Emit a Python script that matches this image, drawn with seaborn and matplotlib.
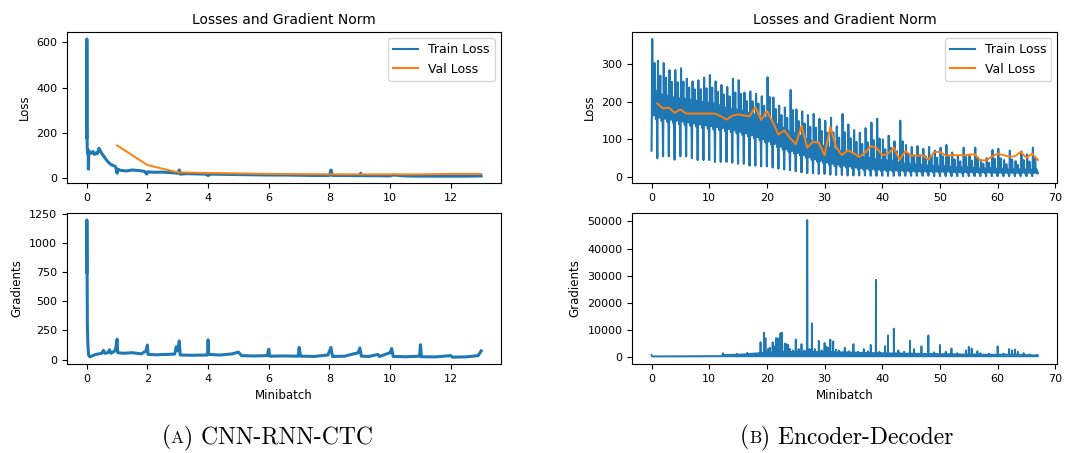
import numpy as np
import pandas as pd
import seaborn as sns
import matplotlib.pyplot as plt
from matplotlib.offsetbox import TextArea, HPacker, AnchoredOffsetbox

# ---- CNN-RNN-CTC (left) ----
train_a_x = [0, 0.003, 0.008, 0.015, 0.03, 0.045, 0.055, 0.07, 0.1, 0.15, 0.2, 0.25, 0.3, 0.35, 0.4, 0.45,
             0.5, 0.6, 0.7, 0.8, 0.9, 0.95, 1.0, 1.02, 1.1, 1.3, 1.5, 1.7, 1.9, 1.98, 2.0, 2.2, 2.5, 2.8,
             3.0, 3.05, 3.08, 3.3, 3.6, 3.9, 4.0, 4.1, 4.5, 5.0, 5.5, 6.0, 6.5, 7.0, 7.5, 8.0, 8.05, 8.1,
             8.5, 9.0, 9.03, 9.06, 9.5, 10.0, 10.1, 10.5, 11.0, 11.5, 12.0, 12.5, 13.0]
train_a_y = [180, 615, 250, 130, 110, 125, 40, 120, 115, 110, 118, 105, 112, 108, 132, 120,
             108, 90, 72, 60, 55, 50, 22, 40, 35, 32, 36, 34, 30, 18, 28, 26, 27, 24,
             22, 36, 18, 20, 19, 18, 12, 18, 17, 16, 15, 14, 14, 13, 12, 12, 36, 12,
             12, 11, 22, 11, 11, 10, 14, 10, 9, 9, 9, 9, 10]
val_a_x = [1, 2, 3, 4, 5, 6, 7, 8, 9, 10, 11, 12, 13]
val_a_y = [145, 58, 26, 23, 21, 19, 18, 17, 17, 17, 17, 19, 19]
grad_a_x = [0, 0.003, 0.01, 0.02, 0.04, 0.06, 0.1, 0.2, 0.3, 0.4, 0.5, 0.55, 0.6, 0.7, 0.75, 0.8, 0.9,
            0.95, 1.0, 1.02, 1.2, 1.5, 1.8, 1.95, 2.0, 2.02, 2.3, 2.6, 2.9, 2.95, 3.0, 3.05, 3.08, 3.5,
            3.9, 3.98, 4.0, 4.02, 4.4, 4.8, 5.0, 5.1, 5.5, 5.95, 6.0, 6.03, 6.5, 6.97, 7.0, 7.05, 7.5,
            7.95, 8.05, 8.1, 8.5, 8.95, 9.0, 9.05, 9.3, 9.6, 9.65, 10.0, 10.05, 10.1, 10.5, 10.97,
            11.0, 11.03, 11.5, 12.0, 12.05, 12.5, 12.9, 13.0]
grad_a_y = [750, 1195, 900, 300, 120, 40, 25, 35, 45, 50, 55, 80, 55, 60, 85, 55, 70,
            90, 175, 60, 55, 60, 50, 75, 125, 45, 42, 45, 48, 110, 75, 160, 40, 38,
            40, 40, 170, 45, 40, 50, 65, 35, 32, 35, 90, 30, 32, 30, 105, 30, 28,
            40, 105, 28, 30, 60, 100, 30, 28, 45, 28, 60, 95, 28, 25, 30,
            128, 25, 24, 35, 22, 24, 35, 75]

# ---- Encoder-Decoder (right), per-epoch levels of the train loss ----
ep_spike = [368, 310, 304, 285, 285, 290, 262, 255, 258, 265, 272, 255, 245, 240, 262, 258, 225, 228,
            222, 215, 266, 212, 190, 185, 232, 180, 175, 165, 168, 155, 150, 158, 135, 168, 140, 125,
            118, 130, 145, 155, 100, 110, 95, 150, 85, 80, 82, 75, 80, 70, 78, 85, 65, 55, 78, 60,
            78, 45, 50, 72, 75, 45, 70, 42, 68, 60, 78]
ep_top = [240, 230, 225, 222, 220, 218, 215, 212, 210, 208, 205, 200, 195, 190, 188, 185, 180, 175,
          170, 165, 160, 150, 140, 130, 125, 118, 110, 102, 95, 90, 85, 80, 75, 70, 66, 62,
          58, 55, 52, 50, 48, 45, 42, 40, 38, 36, 35, 34, 33, 32, 31, 30, 29, 28, 28, 27,
          26, 25, 25, 24, 24, 23, 23, 22, 22, 22, 22]
ep_floor = [145, 140, 138, 135, 132, 130, 128, 125, 122, 120, 118, 116, 114, 112, 108, 104, 100, 95,
            90, 84, 78, 72, 66, 60, 55, 50, 45, 40, 35, 31, 27, 24, 22, 20, 18, 16,
            15, 14, 13, 12, 12, 12, 11, 11, 11, 11, 10, 10, 10, 10, 10, 10, 9, 9, 9, 9,
            9, 9, 9, 8, 8, 8, 8, 8, 8, 8, 8]
ep_dip = [70, 50, 55, 55, 46, 55, 55, 50, 45, 45, 45, 40, 40, 40, 38, 35, 35, 30,
          30, 28, 28, 25, 22, 20, 18, 15, 12, 10, 10, 8, 8, 6, 5, 5, 4, 4,
          4, 4, 3, 3, 3, 3, 3, 3, 3, 3, 3, 3, 3, 2, 2, 2, 2, 2, 2, 2,
          2, 2, 2, 2, 2, 2, 2, 2, 2, 2, 2]
# shape of the loss inside one epoch: (offset, level) with
# -1 = dip, 0..1 = between floor and top, 2 = spike, 1.5 = half spike
epoch_shape = [(0.00, -1), (0.06, 0.3), (0.12, 2), (0.20, 0.5), (0.28, 1), (0.36, 0.2), (0.44, 0.8),
               (0.52, 1.5), (0.60, 0.4), (0.68, 0.9), (0.76, 0.1), (0.84, 0.7), (0.92, 0.3)]

val_b_x = list(range(1, 68))
val_b_y = [196, 183, 185, 171, 180, 169, 169, 169, 169, 169, 169, 162, 153, 163, 167, 164, 162, 187,
           152, 176, 147, 113, 124, 104, 87, 136, 78, 94, 91, 58, 133, 79, 58, 71, 64, 53,
           64, 82, 78, 58, 62, 78, 46, 69, 57, 57, 57, 46, 66, 67, 57, 58, 58, 58, 58, 61,
           44, 44, 54, 62, 58, 54, 55, 67, 51, 62, 45]

# gradient norm of the encoder-decoder: a baseline band plus narrow spikes
base_b_x = [0, 0.1, 5, 12, 12.3, 17, 19, 20, 27, 35, 42, 50, 60, 67]
base_b_y = [800, 300, 320, 400, 800, 1200, 1500, 2000, 1900, 1700, 1400, 1100, 900, 600]
spike_b_x = [12.4, 14.8, 16.6, 18.9, 19.5, 19.75, 20.2, 20.5, 21.0, 21.3, 21.6, 21.9, 22.35, 22.6,
             23.1, 23.4, 23.7, 24.0, 24.5, 25.0, 25.5, 26.0, 26.5, 27.0, 27.4, 27.8, 28.3, 29.0,
             29.5, 30.0, 30.3, 30.6, 31.0, 31.5, 32.0, 32.5, 33.5, 34.2, 35.0, 35.8, 36.8, 37.5,
             38.0, 38.9, 39.5, 40.5, 41.0, 42.0, 42.8, 43.8, 44.8, 45.5, 46.8, 48.0, 49.0, 50.0,
             51.0, 52.0, 53.0, 54.5, 55.0, 55.5, 56.5, 57.0, 58.5, 60.0, 61.0, 62.0, 62.5, 63.0,
             63.5, 64.5, 65.5, 66.8]
spike_b_y = [1500, 1200, 1600, 5500, 9000, 7000, 3000, 3500, 5500, 4000, 7000, 7000, 8800, 9000,
             5000, 4800, 4500, 3000, 2500, 6500, 3000, 4800, 2500, 50500, 3000, 12500, 3000, 6000,
             2500, 5200, 3800, 3500, 6500, 5800, 2800, 2500, 3500, 2200, 4800, 2000, 3000, 2200,
             4500, 28500, 2000, 4000, 8000, 10500, 2500, 2000, 6000, 3000, 4000, 8000, 1800, 4500,
             2000, 3200, 1500, 2500, 3800, 3200, 2200, 1500, 1300, 4000, 1300, 3000, 2500, 2800,
             2000, 1500, 1000, 900]
spike_b_base = [800, 900, 1100, 1500, 1600, 1600, 1700, 1700, 1800, 1800, 1800, 1800, 1900, 1900,
                2000, 2000, 2000, 2000, 1900, 1900, 1900, 1900, 1900, 1900, 1900, 1900, 1900, 1900,
                1900, 1900, 1900, 1900, 1900, 1900, 1800, 1800, 1800, 1700, 1700, 1600, 1600, 1500,
                1500, 1500, 1500, 1400, 1400, 1400, 1400, 1300, 1300, 1300, 1200, 1200, 1200, 1100,
                1100, 1100, 1000, 1000, 1000, 1000, 1000, 900, 900, 900, 900, 900, 900, 900,
                900, 800, 700, 600]

# build the train loss series of the encoder-decoder from the per-epoch levels
train_b_x, train_b_y = [], []
for e in range(len(ep_spike)):
    for off, lev in epoch_shape:
        if lev == -1:
            v = ep_dip[e]
        elif lev == 2:
            v = ep_spike[e]
        elif lev == 1.5:
            v = (ep_top[e] + ep_spike[e]) / 2
        else:
            v = ep_floor[e] + lev * (ep_top[e] - ep_floor[e])
        train_b_x.append(e + off)
        train_b_y.append(v)
train_b_x.append(67)
train_b_y.append(ep_dip[-1] + 8)

# merge baseline knots and spikes into one gradient series
pts = list(zip(base_b_x, base_b_y))
for sx, sy, sb in zip(spike_b_x, spike_b_y, spike_b_base):
    pts += [(sx - 0.025, sb), (sx, sy), (sx + 0.025, sb)]
pts.sort()
grad_b = pd.DataFrame(pts, columns=['minibatch', 'grad'])

fig = plt.figure(figsize=(10.9, 4.53), dpi=100)
ax_la = fig.add_axes([0.0615, 0.596, 0.398, 0.333])
ax_lb = fig.add_axes([0.0615, 0.1965, 0.398, 0.333])
ax_ra = fig.add_axes([0.580, 0.596, 0.390, 0.333])
ax_rb = fig.add_axes([0.580, 0.1965, 0.390, 0.333])

blue = '#1f77b4'
orange = '#ff7f0e'
lw = 1.4
sns.lineplot(x=train_a_x, y=train_a_y, ax=ax_la, color=blue, lw=2.2, label='Train Loss',
             estimator=None, sort=False)
sns.lineplot(x=val_a_x, y=val_a_y, ax=ax_la, color=orange, lw=lw, label='Val Loss',
             estimator=None, sort=False)
sns.lineplot(x=grad_a_x, y=grad_a_y, ax=ax_lb, color=blue, lw=2.2, estimator=None, sort=False)

sns.lineplot(x=train_b_x, y=train_b_y, ax=ax_ra, color=blue, lw=1.5, label='Train Loss',
             estimator=None, sort=False)
sns.lineplot(x=val_b_x, y=val_b_y, ax=ax_ra, color=orange, lw=lw, label='Val Loss',
             estimator=None, sort=False)
sns.lineplot(data=grad_b, x='minibatch', y='grad', ax=ax_rb, color=blue, lw=1.3,
             estimator=None, sort=False)
ax_rb.fill_between(base_b_x, 150, base_b_y, color=blue, lw=0)

for ax in [ax_la, ax_ra]:
    ax.set_title('Losses and Gradient Norm', fontsize=10)
    ax.set_ylabel('Loss', fontsize=8.5)
    ax.set_xlabel('')
    leg = ax.legend(loc='upper right', fontsize=9)
    for line in leg.get_lines():
        line.set_linewidth(1.5)
for ax in [ax_lb, ax_rb]:
    ax.set_ylabel('Gradients', fontsize=8.5)
    ax.set_xlabel('Minibatch', fontsize=8.5)
for ax in [ax_la, ax_lb, ax_ra, ax_rb]:
    ax.tick_params(labelsize=8)

ax_la.set_xticks(range(0, 13, 2))
ax_lb.set_xticks(range(0, 13, 2))
ax_la.set_yticks(range(0, 601, 200))
ax_lb.set_yticks(range(0, 1251, 250))
ax_ra.set_xticks(range(0, 71, 10))
ax_rb.set_xticks(range(0, 71, 10))
ax_ra.set_yticks(range(0, 301, 100))
ax_rb.set_yticks(range(0, 50001, 10000))
ax_la.set_xlim(-0.65, 13.65)
ax_lb.set_xlim(-0.65, 13.65)
ax_ra.set_xlim(-3.35, 70.35)
ax_rb.set_xlim(-3.35, 70.35)
ax_rb.set_ylim(-2525, 53025)

# captions, with the letter in small capitals
def caption(letter, rest, cx):
    big = dict(family='cmr10', size=17)
    small = dict(family='cmr10', size=12.5)
    box = HPacker(children=[TextArea('(', textprops=big), TextArea(letter, textprops=small),
                            TextArea(') ' + rest, textprops=big)],
                  align='baseline', pad=0, sep=0)
    anc = AnchoredOffsetbox(loc='center', child=box, frameon=False, pad=0,
                            bbox_to_anchor=(cx, 0.035), bbox_transform=fig.transFigure)
    fig.add_artist(anc)

caption('A', 'CNN-RNN-CTC', 0.245)
caption('B', 'Encoder-Decoder', 0.777)

plt.savefig('out.png', dpi=100)
